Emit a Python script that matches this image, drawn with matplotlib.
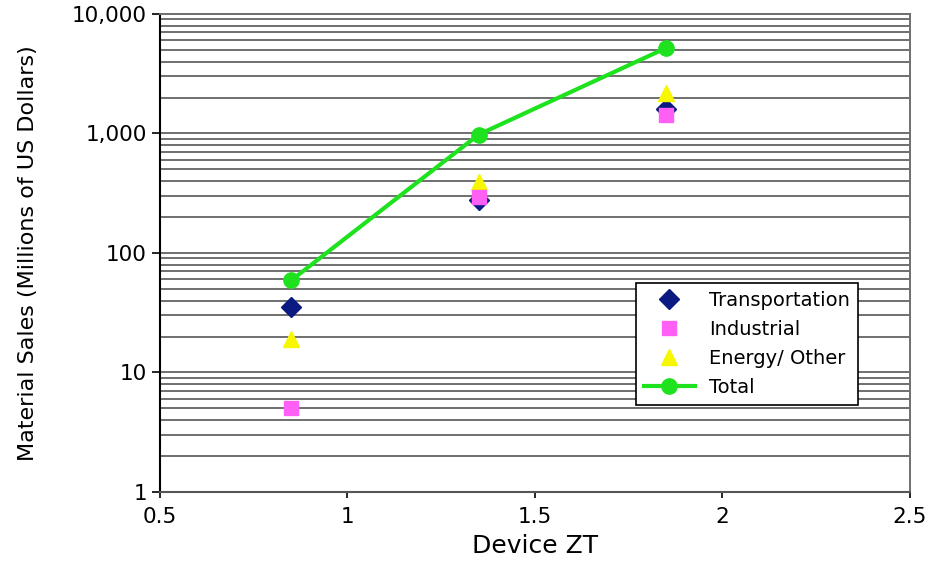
import numpy as np
import matplotlib.pyplot as plt
from matplotlib.ticker import FixedLocator, FuncFormatter, LogLocator

# values (millions of US dollars)
zt = [0.85, 1.35, 1.85]
transportation = [35, 280, 1600]
industrial = [5, 295, 1430]
energy_other = [19, 390, 2200]
total = [59, 980, 5200]

x_ticks = [0.5, 1, 1.5, 2, 2.5]
y_ticks = [1, 10, 100, 1000, 10000]

plt.rcParams['font.family'] = ['DejaVu Sans']

fig = plt.figure(figsize=(9.33, 5.73), dpi=100)
ax = fig.add_axes([0.1715, 0.1414, 0.8038, 0.8342])

ax.set_yscale('log')
ax.set_xlim(0.5, 2.5)
ax.set_ylim(1, 10000)

# horizontal grid on major and minor decades
ax.yaxis.set_major_locator(FixedLocator(y_ticks))
ax.yaxis.set_minor_locator(LogLocator(base=10, subs=np.arange(2, 10)))
ax.yaxis.set_major_formatter(FuncFormatter(lambda v, p: '{:,.0f}'.format(v)))
ax.yaxis.set_minor_formatter(FuncFormatter(lambda v, p: ''))
ax.grid(True, which='both', axis='y', color='#6f6f6f', lw=1.4)
ax.set_axisbelow(True)

ax.set_xticks(x_ticks)
ax.set_xticklabels(['0.5', '1', '1.5', '2', '2.5'])

ax.plot(zt, total, color='#1fe21f', lw=3, marker='o', ms=11, zorder=3, label='Total')
ax.plot(zt, transportation, ls='none', marker='D', ms=10, color='#0b1a80', zorder=4,
        label='Transportation')
ax.plot(zt, energy_other, ls='none', marker='^', ms=12, color='#f7f700', zorder=4,
        label='Energy/ Other')
ax.plot(zt, industrial, ls='none', marker='s', ms=10, color='#ff5ff5', zorder=5,
        label='Industrial')

h, l = ax.get_legend_handles_labels()
order = [1, 3, 2, 0]
leg = ax.legend([h[i] for i in order], [l[i] for i in order], loc='upper left',
                bbox_to_anchor=(0.635, 0.437), borderaxespad=0, fontsize=14,
                frameon=True, fancybox=False, framealpha=1, edgecolor='black',
                handlelength=2.6, handletextpad=0.75, labelspacing=0.52,
                borderpad=0.4)
leg.get_frame().set_linewidth(1.2)

ax.tick_params(axis='both', which='major', labelsize=15.5, color='black')
ax.tick_params(axis='y', which='major', length=6, width=1.2)
ax.tick_params(axis='y', which='minor', length=0)
ax.tick_params(axis='x', which='major', length=4, width=1.2, pad=7)

ax.spines['left'].set_color('black')
ax.spines['left'].set_linewidth(1.5)
ax.spines['bottom'].set_color('#555555')
ax.spines['bottom'].set_linewidth(1.5)
for s in ['top', 'right']:
    ax.spines[s].set_color('#6f6f6f')
    ax.spines[s].set_linewidth(1.4)

ax.set_xlabel('Device ZT', fontsize=18, labelpad=5)
ax.set_ylabel('Material Sales (Millions of US Dollars)', fontsize=16, labelpad=24)

fig.savefig('out.png', dpi=100)
